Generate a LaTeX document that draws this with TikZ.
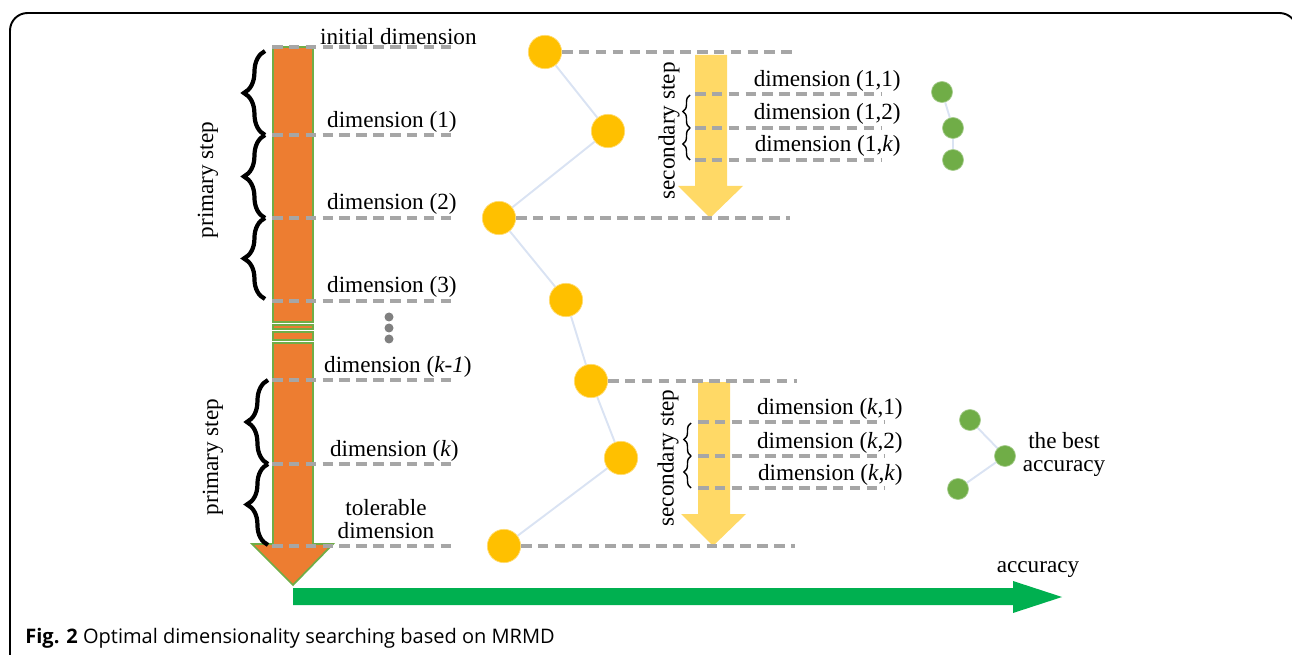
\documentclass[tikz,border=0pt]{standalone}
\usepackage{fontspec}
\setmainfont{Liberation Serif}
\newfontfamily\capfont{Open Sans}
\usepackage{tikz}
\usetikzlibrary{
	arrows.meta,
	positioning,
	decorations.pathreplacing,
	backgrounds
}
\definecolor{barorange}{HTML}{ED7D31}
\definecolor{bargreen}{HTML}{70AD47}
\definecolor{ballyellow}{HTML}{FFC000}
\definecolor{arrowyellow}{HTML}{FFD966}
\definecolor{accgreen}{HTML}{00B050}
\definecolor{dashgray}{HTML}{A6A6A6}
\definecolor{linkblue}{HTML}{DAE3F3}

\begin{document}
\begin{tikzpicture}[
			x=0.02cm, y=-0.02cm,
			font=\fontsize{13.2}{12.6}\selectfont,
			dline/.style={dashgray, line width=2.2pt, dash pattern=on 6pt off 3.6pt},
			lbl/.style={inner sep=0pt, anchor=base east},
			rot/.style={rotate=90, inner sep=0pt},
			ybal/.style={circle, fill=ballyellow, draw=ballyellow!55, line width=0.4pt, minimum size=19pt, inner sep=0pt},
			gbal/.style={circle, fill=bargreen, draw=bargreen!60, line width=0.4pt, minimum size=12pt, inner sep=0pt},
			link/.style={linkblue, line width=1.1pt},
			bigbrace/.style={decorate, decoration={brace, amplitude=12pt}, line width=2.4pt},
			smallbrace/.style={decorate, decoration={brace, amplitude=4pt}, line width=0.8pt},
			bar/.style={fill=barorange, draw=bargreen, line width=1pt}
		]
		\useasboundingbox (0,0) rectangle (1292,655);
		\draw[line width=1.1pt, rounded corners=10] (10,680) -- (10,13) -- (1297,13) -- (1297,680);

		\draw[bar] (273,47) rectangle (313,322);
		\draw[bar] (273,325) rectangle (313,329);
		\draw[bar] (273,332) rectangle (313,340);
		\draw[bar] (273,343) -- (313,343) -- (313,544) -- (333,544) -- (293,585) -- (252,544) -- (273,544) -- cycle;

		\foreach \yy in {47,135,218,301,380,464,546}
			\draw[dline] (272,\yy) -- (457,\yy);

		\node[lbl] (init) at (477,45) {initial dimension};
		\node[lbl] (d1) at (457,128) {dimension (1)};
		\node[lbl] (d2) at (457,210) {dimension (2)};
		\node[lbl] (d3) at (457,293) {dimension (3)};
		\node[lbl] (dk1) at (472,373) {dimension (\textit{k-1})};
		\node[lbl] (dk) at (459,456) {dimension (\textit{k})};
		\node[align=center, inner sep=0pt, anchor=base] (tol) at (386,538) {tolerable\\ dimension};

		\draw[bigbrace] (265,135) -- (265,51);
		\draw[bigbrace] (265,218) -- (265,135);
		\draw[bigbrace] (265,299) -- (265,218);
		\draw[bigbrace] (268,464) -- (268,380);
		\draw[bigbrace] (268,545) -- (268,464);
		\node[rot] (ps1) at (208,180) {primary step};
		\node[rot] (ps2) at (213,457) {primary step};

		\foreach \yy in {317,328,339}
			\fill[gray] (389,\yy) circle (4.5);

		\node[ybal] (c0) at (545,52) {};
		\node[ybal] (c1) at (608,131) {};
		\node[ybal] (c2) at (499,218) {};
		\node[ybal] (c3) at (566,300) {};
		\node[ybal] (c4) at (591,381) {};
		\node[ybal] (c5) at (621,458) {};
		\node[ybal] (c6) at (504,546) {};
		\begin{scope}[on background layer]
			\draw[link] (c0) -- (c1) -- (c2) -- (c3) -- (c4) -- (c5) -- (c6);
		\end{scope}

		\fill[arrowyellow] (695,55) -- (727,55) -- (727,186) -- (743,186) -- (710,218) -- (678,186) -- (695,186) -- cycle;
		\fill[arrowyellow] (698,382) -- (730,382) -- (730,514) -- (746,514) -- (713,546) -- (681,514) -- (698,514) -- cycle;

		\coordinate (e0) at (795,52);
		\coordinate (e2) at (790,219);
		\coordinate (e4) at (797,380);
		\coordinate (e6) at (795,547);
		\draw[dline] (c0.east) -- (c0.east -| e0);
		\draw[dline] (c2.east) -- (c2.east -| e2);
		\draw[dline] (c4.east) -- (c4.east -| e4);
		\draw[dline] (c6.east) -- (c6.east -| e6);

		\foreach \yy in {94,128,160}
			\draw[dline] (695,\yy) -- (882,\yy);
		\foreach \yy in {422,456,488}
			\draw[dline] (698,\yy) -- (884,\yy);

		\node[lbl] (d11) at (901,87) {dimension (1,1)};
		\node[lbl] (d12) at (901,120) {dimension (1,2)};
		\node[lbl] (d1k) at (901,152) {dimension (1,\textit{k})};
		\node[lbl] (dk1b) at (903,414) {dimension (\textit{k},1)};
		\node[lbl] (dk2) at (903,448) {dimension (\textit{k},2)};
		\node[lbl] (dkk) at (903,480) {dimension (\textit{k},\textit{k})};

		\draw[smallbrace] (690,128) -- (690,95);
		\draw[smallbrace] (690,160) -- (690,128);
		\draw[smallbrace] (691,456) -- (691,423);
		\draw[smallbrace] (691,488) -- (691,456);
		\node[rot] (ss1) at (669,131) {secondary step};
		\node[rot] (ss2) at (668,458) {secondary step};

		\node[gbal] (g1) at (942,92) {};
		\node[gbal] (g2) at (953,128) {};
		\node[gbal] (g3) at (953,160) {};
		\node[gbal] (g4) at (970,420) {};
		\node[gbal] (g5) at (1005,456) {};
		\node[gbal] (g6) at (958,489) {};
		\begin{scope}[on background layer]
			\draw[link] (g1) -- (g2) -- (g3);
			\draw[link] (g4) -- (g5) -- (g6);
		\end{scope}
		\node[align=center, inner sep=0pt, anchor=base] (best) at (1064,471) {the best\\ accuracy};

		\fill[accgreen] (293,588) -- (1013,588) -- (1013,581) -- (1062,597) -- (1013,613) -- (1013,605) -- (293,605) -- cycle;
		\node[inner sep=0pt, anchor=base] (acc) at (1038,572) {accuracy};

		\node[inner sep=0pt, anchor=base west, font=\capfont\fontsize{11.4}{13}\selectfont] (cap) at (25,643)
			{\textbf{Fig. 2} Optimal dimensionality searching based on MRMD};
	\end{tikzpicture}
\end{document}
